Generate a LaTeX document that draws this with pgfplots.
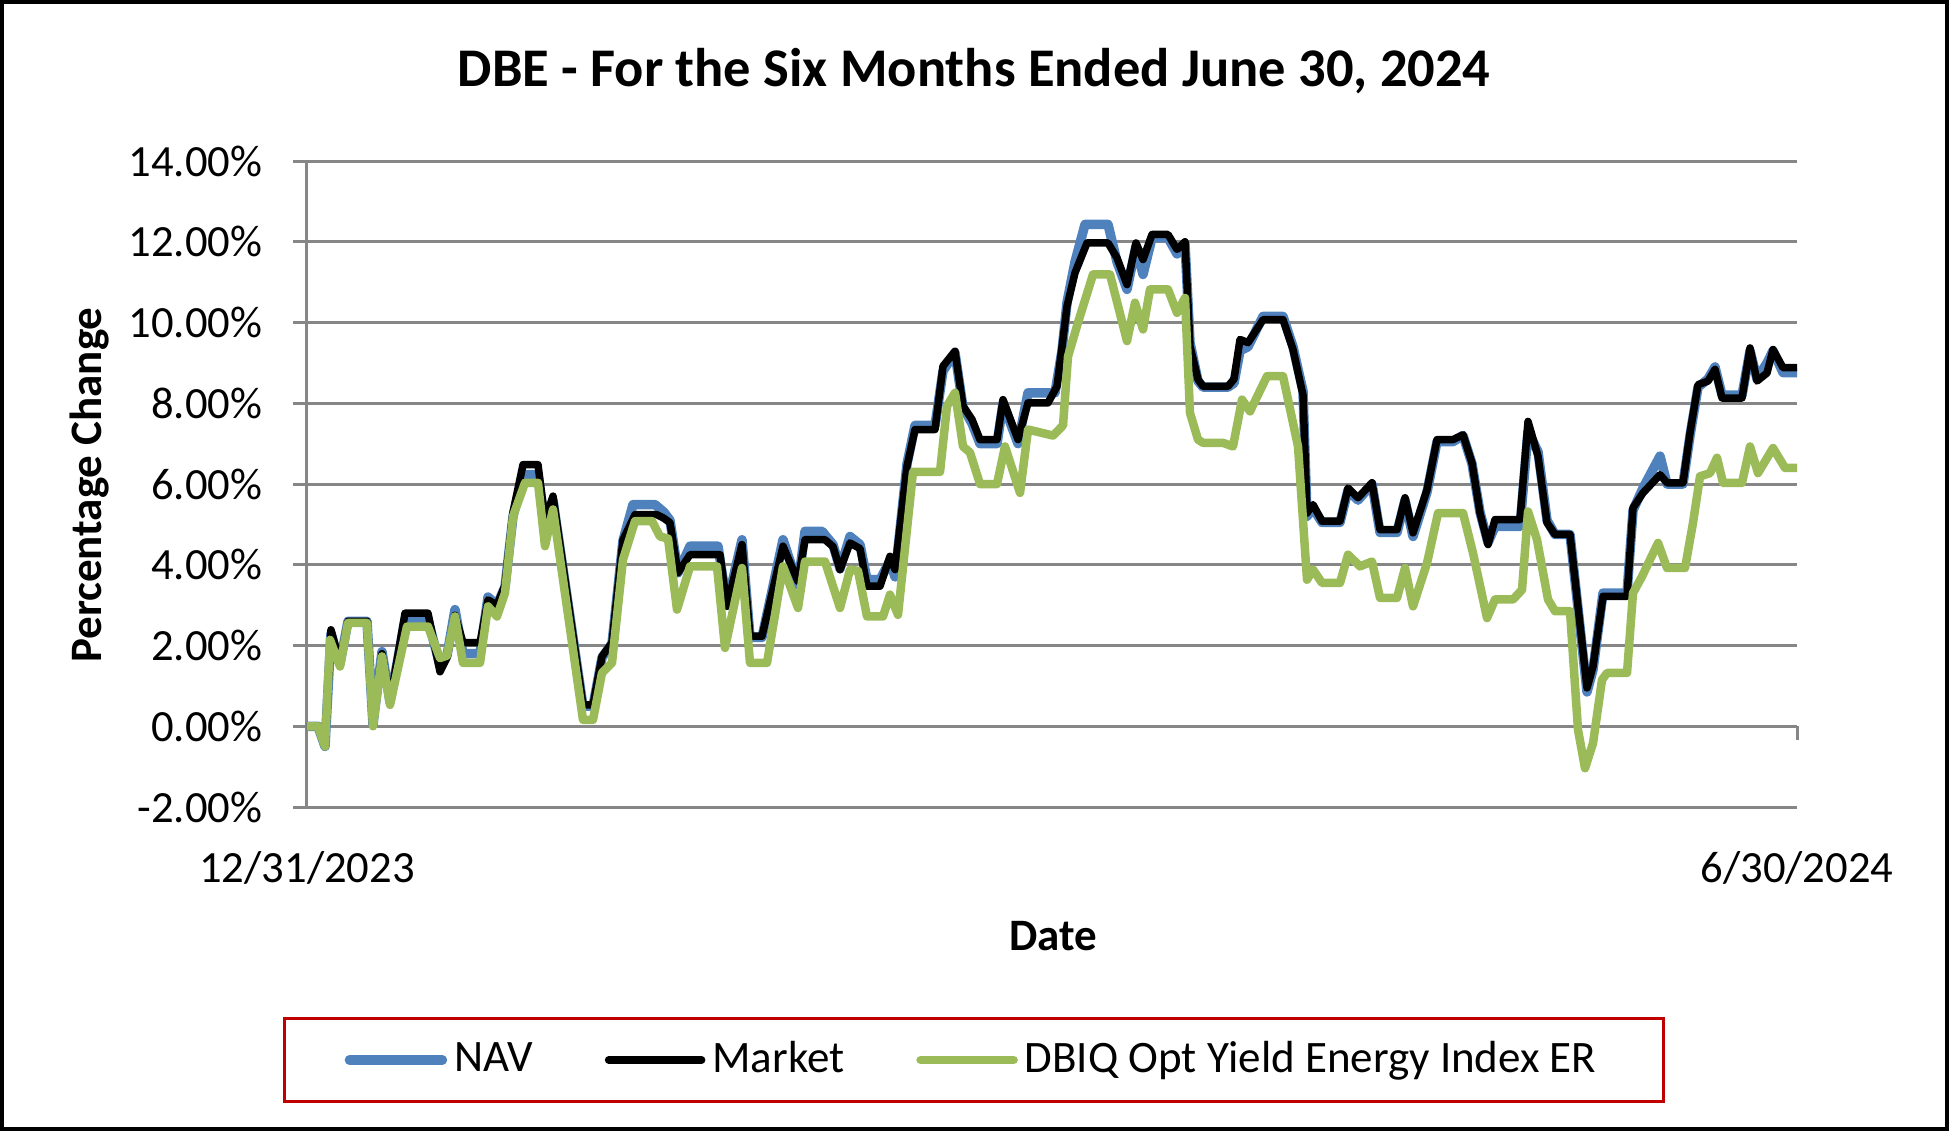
\documentclass[border=0pt]{standalone}
\usepackage{pgfplots}
\pgfplotsset{compat=1.18}
\usepackage{pgfplotstable}
\usepackage{fontspec}
\setmainfont{Carlito}
\definecolor{navblue}{RGB}{79,129,189}
\definecolor{idxgreen}{RGB}{155,187,89}
\definecolor{gridgray}{RGB}{134,134,134}
\definecolor{legred}{RGB}{192,0,0}

\pgfplotstableread{
x y
307 0
318 0
325 -0.5
331 2.3
340 1.55
348 2.6
367 2.6
373 0.05
382 1.85
390 0.6
405 2.64
428 2.64
440 1.5
447 1.75
455 2.89
463 1.8
480 1.8
488 3.2
497 3.0
505 3.45
513 5.2
523 6.23
538 6.23
545 5.0
553 5.6
583 0.5
593 0.5
602 1.7
612 2.05
623 4.6
633 5.49
655 5.49
664 5.3
670 5.1
678 3.8
690 4.46
718 4.46
727 3.0
742 4.62
750 2.2
762 2.2
783 4.62
798 3.5
805 4.83
822 4.83
833 4.5
840 3.9
850 4.7
860 4.5
867 3.63
880 3.63
890 4.1
895 3.7
907 6.5
915 7.45
935 7.45
943 8.8
955 9.25
963 7.9
972 7.5
980 7.0
997 7.0
1003 8.0
1018 7.0
1028 8.26
1055 8.26
1062 9.3
1067 10.5
1075 11.5
1085 12.43
1108 12.43
1117 11.5
1127 10.82
1136 11.9
1143 11.19
1152 12.1
1168 12.1
1177 11.7
1185 11.95
1190 9.5
1198 8.55
1203 8.4
1228 8.4
1234 8.5
1240 9.3
1248 9.4
1263 10.15
1283 10.15
1293 9.4
1303 8.3
1307 5.2
1313 5.4
1322 5.05
1340 5.05
1348 5.85
1358 5.6
1372 6.0
1380 4.8
1397 4.8
1405 5.6
1413 4.7
1427 5.8
1437 7.05
1453 7.05
1463 7.2
1472 6.5
1480 5.3
1488 4.55
1495 4.95
1520 4.95
1528 7.3
1538 6.8
1547 5.1
1555 4.75
1570 4.75
1587 0.85
1593 1.4
1603 3.3
1627 3.3
1633 5.35
1643 5.9
1660 6.69
1667 6.0
1683 6.0
1690 7.2
1698 8.4
1708 8.6
1715 8.9
1722 8.2
1742 8.2
1750 9.3
1757 8.6
1767 9.0
1773 9.3
1783 8.76
1797 8.76
}\navtable

\pgfplotstableread{
x y
307 0
318 0
325 -0.5
331 2.39
340 1.55
348 2.6
367 2.6
373 0.05
382 1.8
390 0.6
405 2.8
428 2.8
440 1.35
447 1.7
455 2.75
463 2.07
480 2.07
488 3.13
497 3.0
505 3.5
513 5.3
523 6.48
538 6.48
545 5.1
553 5.7
583 0.53
593 0.53
602 1.73
612 2.07
623 4.62
635 5.24
657 5.24
664 5.15
670 5.04
678 3.8
690 4.25
720 4.25
727 2.97
742 4.5
750 2.23
762 2.23
783 4.46
798 3.59
805 4.62
825 4.62
833 4.45
840 3.88
850 4.54
860 4.4
867 3.47
880 3.47
890 4.21
895 3.88
907 6.44
915 7.35
935 7.35
943 8.92
955 9.29
963 7.93
972 7.6
980 7.1
997 7.1
1003 8.09
1018 7.1
1028 8.01
1048 8.01
1057 8.42
1062 9.4
1067 10.4
1075 11.23
1087 11.97
1108 11.97
1117 11.6
1127 10.94
1136 11.97
1143 11.56
1152 12.18
1168 12.18
1177 11.81
1185 12.0
1190 9.41
1198 8.59
1203 8.42
1228 8.42
1234 8.6
1240 9.58
1248 9.5
1263 10.07
1283 10.07
1293 9.33
1303 8.2
1307 5.28
1313 5.49
1322 5.08
1340 5.08
1348 5.9
1358 5.66
1372 6.03
1380 4.87
1397 4.87
1405 5.66
1413 4.79
1427 5.86
1437 7.1
1453 7.1
1463 7.22
1472 6.52
1480 5.28
1488 4.5
1495 5.12
1520 5.12
1528 7.55
1538 6.69
1547 5.04
1555 4.75
1570 4.75
1587 0.95
1593 1.48
1603 3.22
1627 3.22
1633 5.41
1643 5.78
1660 6.23
1667 6.03
1683 6.03
1690 7.27
1698 8.46
1708 8.55
1715 8.84
1722 8.13
1742 8.13
1750 9.37
1757 8.55
1767 8.75
1773 9.33
1783 8.88
1797 8.88
}\mkttable

\pgfplotstableread{
x y
307 0
318 0
325 -0.5
330 2.14
340 1.48
348 2.56
367 2.56
373 0
382 1.73
390 0.53
407 2.47
428 2.47
440 1.69
447 1.75
455 2.72
463 1.57
480 1.57
488 2.97
497 2.72
505 3.3
513 5.2
525 6.03
538 6.03
545 4.46
553 5.37
583 0.16
593 0.16
602 1.32
612 1.57
623 4.13
635 5.08
652 5.08
660 4.7
668 4.65
677 2.89
690 3.96
717 3.96
725 1.94
742 3.92
750 1.57
767 1.57
783 3.96
798 2.93
805 4.08
825 4.08
840 2.93
850 3.88
858 3.85
867 2.72
883 2.72
890 3.26
898 2.76
913 6.3
940 6.3
947 7.93
955 8.26
963 6.93
970 6.78
980 6.0
997 6.0
1005 6.93
1020 5.78
1028 7.35
1053 7.2
1063 7.45
1068 9.16
1078 10.0
1093 11.19
1110 11.19
1127 9.54
1135 10.49
1143 9.83
1150 10.82
1168 10.82
1177 10.24
1185 10.61
1190 7.76
1198 7.1
1203 7.02
1223 7.02
1233 6.93
1242 8.09
1250 7.8
1267 8.67
1283 8.67
1298 6.93
1307 3.63
1313 3.88
1322 3.55
1340 3.55
1348 4.25
1360 3.96
1372 4.08
1380 3.18
1397 3.18
1405 3.92
1413 2.97
1427 4.04
1438 5.28
1463 5.28
1473 4.29
1487 2.68
1495 3.14
1513 3.14
1522 3.38
1528 5.32
1537 4.62
1548 3.14
1555 2.85
1570 2.85
1578 -0.09
1585 -1.04
1593 -0.42
1602 1.15
1607 1.32
1627 1.32
1633 3.3
1642 3.71
1658 4.54
1667 3.92
1685 3.92
1693 5.04
1700 6.19
1710 6.27
1717 6.65
1723 6.03
1742 6.03
1750 6.93
1758 6.27
1773 6.89
1785 6.4
1797 6.4
}\idxtable

\begin{document}
\begin{tikzpicture}
\begin{axis}[
  scale only axis, width=149mm, height=64.6mm,
  at={(0,0)}, anchor=south west,
  xmin=307, xmax=1797, ymin=-2, ymax=14,
  axis x line*=bottom, axis y line*=left,
  axis line style={draw=gridgray, line width=0.3mm, -},
  ymajorgrids, grid style={draw=gridgray, line width=0.3mm},
  ytick={-2,0,2,4,6,8,10,12,14},
  yticklabels={-2.00\%,0.00\%,2.00\%,4.00\%,6.00\%,8.00\%,10.00\%,12.00\%,14.00\%},
  xtick={307,1797}, xticklabels={12/31/2023,6/30/2024},
  tick align=outside,
  major tick length=1.4mm,
  ytick style={draw=gridgray, line width=0.3mm},
  xtick style={draw=none},
  tick label style={font=\fontsize{12.7}{15}\selectfont, text=black},
  yticklabel style={anchor=east, inner sep=0pt, xshift=-3.0mm},
  xticklabel style={anchor=center, inner sep=0pt, yshift=-4.65mm},
  legend style={at={(axis description cs:0.4477,-0.3916)}, anchor=center,
    draw=legred, line width=0.25mm, legend columns=3,
    font=\fontsize{12.8}{15}\selectfont,
    inner xsep=6mm, inner ysep=1.6mm,
    /tikz/every even column/.append style={column sep=6.5mm}},
  legend image code/.code={\draw[#1, line cap=round] (0mm,0mm) -- (9.3mm,0mm);},
  clip=false,
]
\addplot[navblue, line width=0.95mm, line join=round] table {\navtable};
\addlegendentry{NAV}
\addplot[black, line width=0.75mm, line join=round] table {\mkttable};
\addlegendentry{Market}
\addplot[idxgreen, line width=0.85mm, line join=round] table {\idxtable};
\addlegendentry{DBIQ Opt Yield Energy Index ER}
\draw[gridgray, line width=0.3mm] (axis cs:1797,0) -- ++(0pt,-1.4mm);
\end{axis}
\node[font=\bfseries\fontsize{15.5}{18}\selectfont] at (66.7mm,73.6mm) {DBE - For the Six Months Ended June 30, 2024};
\node[font=\bfseries\fontsize{12.8}{15}\selectfont, rotate=90] at (-21.75mm,32.2mm) {Percentage Change};
\node[font=\bfseries\fontsize{12.8}{15}\selectfont] at (74.6mm,-12.9mm) {Date};
\draw[black, line width=0.35mm] (-30.52mm,-32.22mm) rectangle (164.02mm,80.52mm);
\pgfresetboundingbox
\path[use as bounding box] (-30.7mm,-32.4mm) rectangle (164.2mm,80.7mm);
\end{tikzpicture}
\end{document}
